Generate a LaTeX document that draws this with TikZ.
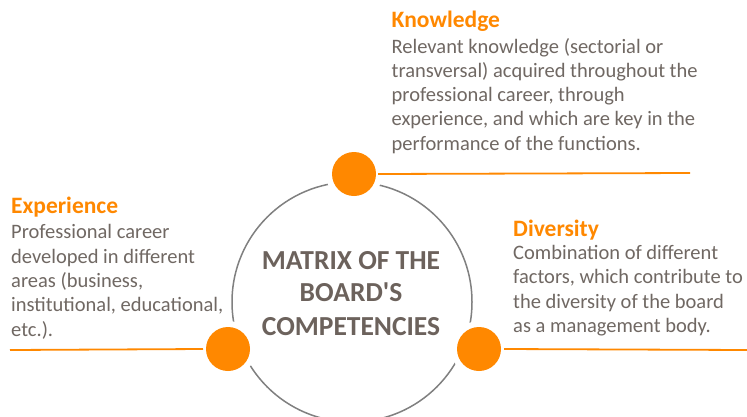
\documentclass[tikz,border=0pt]{standalone}
\usepackage{fontspec}
\newfontfamily\cfont{Carlito}
\definecolor{dotorange}{RGB}{255,136,0}
\definecolor{bodygray}{RGB}{112,104,99}
\definecolor{titlegray}{RGB}{108,98,92}
\definecolor{ringgray}{RGB}{128,128,128}
\tikzset{
  heading/.style={anchor=base west, inner sep=0pt, text=dotorange, font=\cfont\fontsize{23.5}{28}\selectfont\bfseries},
  bodyline/.style={anchor=base west, inner sep=0pt, text=bodygray, font=\cfont\fontsize{20.5}{24}\selectfont},
  titleline/.style={anchor=base, inner sep=0pt, text=titlegray, font=\cfont\fontsize{27.5}{33}\selectfont\bfseries},
  orangedot/.style={circle, minimum size=44pt, inner sep=0pt, outer sep=0pt, fill=dotorange, preaction={draw=white, line width=12pt}},
  orangeline/.style={draw=dotorange, line width=1.8pt},
  bigring/.style={draw=ringgray, line width=1.5pt}
}
\begin{document}
\begin{tikzpicture}[x=1pt,y=-1pt]
\useasboundingbox[fill=white] (0,0) rectangle (747,416);
% big ring
\node[bigring, circle, minimum size=240pt, inner sep=0pt] (ring) at (352,302) {};
% dots
\node[orangedot] (kdot) at (354,174) {};
\node[orangedot] (edot) at (228,349) {};
\node[orangedot] (ddot) at (479,349) {};
% line ends
\coordinate (kend) at (690,173);
\coordinate (eend) at (10,350);
\coordinate (dend) at (747,350);
\draw[orangeline] ([xshift=2pt]kdot.east) -- (kend);
\draw[orangeline] (eend) -- ([xshift=-3pt]edot.west);
\draw[orangeline] ([xshift=3pt]ddot.east) -- (dend);
% centre title
\node[titleline] (t1) at (351,269) {MATRIX OF THE};
\node[titleline] (t2) at (351,301.7) {BOARD'S};
\node[titleline] (t3) at (351,335) {COMPETENCIES};
% Knowledge
\node[heading] (kh) at (391.5,27.3) {Knowledge};
\foreach \txt [count=\i] in {Relevant knowledge (sectorial or,transversal) acquired throughout the,{professional career, through},{experience, and which are key in the},performance of the functions.}
  \node[bodyline] (k\i) at (391.5,29+24.2*\i) {\txt};
% Experience
\node[heading] (eh) at (11,213.3) {Experience};
\foreach \txt [count=\i] in {Professional career,developed in different,{areas (business,},{institutional, educational,},etc.).}
  \node[bodyline] (e\i) at (11,214.3+24.4*\i) {\txt};
% Diversity
\node[heading] (dh) at (513,236) {Diversity};
\foreach \txt [count=\i] in {Combination of different,{factors, which contribute to},the diversity of the board,as a management body.}
  \node[bodyline] (d\i) at (513,235+24.4*\i) {\txt};
\end{tikzpicture}
\end{document}
